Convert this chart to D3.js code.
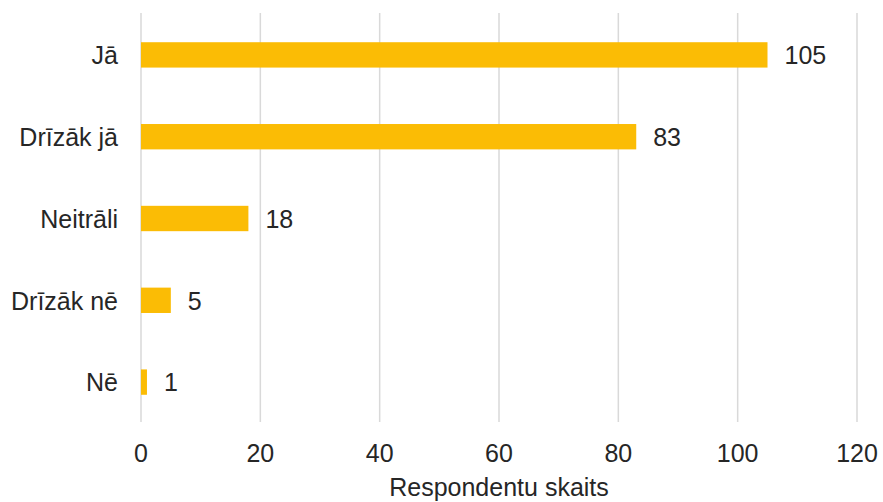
<!DOCTYPE html>
<html>
<head>
<meta charset="utf-8">
<script src="https://cdn.jsdelivr.net/npm/d3@7"></script>
<style>
  html, body { margin: 0; padding: 0; background: #fff; }
  svg { display: block; }
  text { font-family: "Liberation Sans", Arial, sans-serif; fill: #262626; }
</style>
</head>
<body>
<svg id="chart" width="883" height="502"></svg>
<script>
const categories = ["Jā", "Drīzāk jā", "Neitrāli", "Drīzāk nē", "Nē"];
const values = [105, 83, 18, 5, 1];
const xTicks = [0, 20, 40, 60, 80, 100, 120];
const xTitle = "Respondentu skaits";

const svg = d3.select("#chart");
const x = d3.scaleLinear().domain([0, 120]).range([141, 857]);
const y = d3.scaleBand().domain(categories).range([14, 423]).paddingInner(0.69).paddingOuter(0.345);

// gridlines
svg.append("g").selectAll("line").data(xTicks).join("line")
  .attr("x1", d => x(d)).attr("x2", d => x(d))
  .attr("y1", 13).attr("y2", 422)
  .attr("stroke", "#d9d9d9").attr("stroke-width", 1.5);

// bars
const data = categories.map((c, i) => ({c, v: values[i]}));
svg.append("g").selectAll("rect").data(data).join("rect")
  .attr("x", x(0)).attr("y", d => y(d.c))
  .attr("width", d => x(d.v) - x(0)).attr("height", y.bandwidth())
  .attr("fill", "#FBBC05");

// value labels
svg.append("g").selectAll("text").data(data).join("text")
  .attr("x", d => x(d.v) + 17).attr("y", d => y(d.c) + y.bandwidth() / 2)
  .attr("dy", "0.37em").attr("font-size", 25)
  .text(d => d.v);

// category labels
svg.append("g").selectAll("text").data(categories).join("text")
  .attr("x", 118).attr("y", d => y(d) + y.bandwidth() / 2)
  .attr("dy", "0.37em").attr("text-anchor", "end").attr("font-size", 25)
  .text(d => d);

// x tick labels
svg.append("g").selectAll("text").data(xTicks).join("text")
  .attr("x", d => x(d)).attr("y", 462)
  .attr("text-anchor", "middle").attr("font-size", 25)
  .text(d => d);

// axis title
svg.append("text").attr("x", 499).attr("y", 496)
  .attr("text-anchor", "middle").attr("font-size", 25)
  .text(xTitle);
</script>
</body>
</html>
